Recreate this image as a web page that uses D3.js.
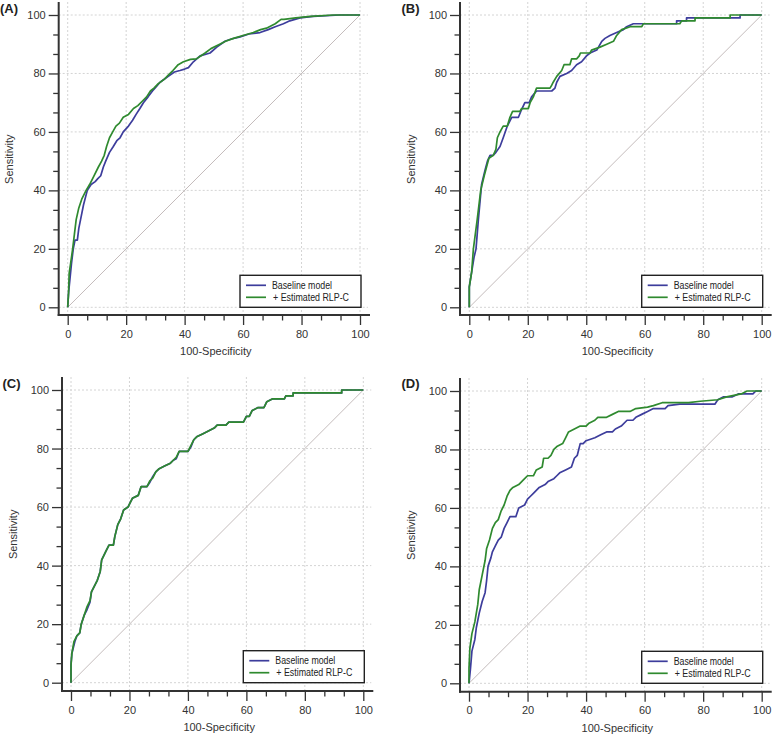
<!DOCTYPE html>
<html><head><meta charset="utf-8">
<script src="https://cdn.jsdelivr.net/npm/d3@7"></script>
<style>
body{margin:0;background:#fff;}
svg{display:block;font-family:Arial,"Liberation Sans",sans-serif;}
</style>
</head><body>
<svg id="chart" width="778" height="734"></svg>
<script>
// ---------- data ----------
const seriesNames = ["Baseline model", "+ Estimated RLP-C"];
const seriesColors = ["#3d3d9c", "#2f8a2f"];
const majorTicks = [0, 20, 40, 60, 80, 100];
const panelLabels = ["(A)", "(B)", "(C)", "(D)"];
const xTitle = "100-Specificity";
const yTitle = "Sensitivity";

// Panel A
const aBaseline = [[0,0],[0.3,5],[0.8,10],[1.3,15],[1.9,20],[2.5,23],[3.3,23],[3.8,27],[4.4,30],[5.4,35],[6.7,40],[8,42],[9.4,43],[10.3,44],[11.3,45],[12.2,48],[13,50],[14.3,53],[15.6,55],[16.8,57],[17.9,58],[19,60],[20.8,62],[22.2,64],[23.4,66],[24.7,68],[25.9,70],[27.5,72],[29,74],[30.3,75.5],[31.6,77],[33,78],[34.4,79],[36.5,80.5],[38.4,81],[40,81.5],[41.3,82],[43,84],[45.3,86],[48.7,87],[51,89],[53.8,91],[56,91.8],[59,92.5],[62,93.5],[65.8,94],[68.6,95],[71,96],[73.8,97],[76,98],[79.5,99],[84,99.5],[93,100],[100,100]];
const aEstimated = [[0,0],[0.3,5],[0.5,11.6],[1,15],[1.7,20],[2.3,25],[2.9,30],[3.8,34],[4.8,37],[6.3,40],[7.5,42],[9,45],[10.5,48],[11.6,50],[12.5,52],[13.3,55],[14.3,58],[15.4,60],[16.5,62],[17.7,63],[19,65],[20.8,66],[22.5,68],[24,69],[25.5,70.5],[27,72],[28.3,74],[29.5,75],[31,76.5],[33,78],[34.5,79.5],[36,81],[37.8,83],[39.6,84],[42,84.8],[44,85],[45.5,86],[47,87],[49,88.5],[52,90],[54,91],[56.7,92],[60,93],[63.5,94],[66,95],[68,95.5],[71,97],[73,98.5],[74,98.5],[78,99],[83,99.5],[91,100],[100,100]];

// Panel B
const bBaseline = [[0,0],[0,7],[0.8,12],[1.6,17],[2.3,20],[3.1,30],[4.2,42],[5.4,47],[6.2,50],[7.1,52],[8.2,52],[9.1,53],[10.5,55],[11.6,58],[13,62],[14.5,65],[16.8,65],[17.6,67],[19,70],[20.5,70],[21.3,72],[23,74],[28.2,74],[29.3,75],[29.9,77],[31,79],[33.3,80],[35,81],[36.7,83],[38.4,84],[40.1,86],[41.3,87],[43.6,88],[45.3,91],[46.4,92],[48.1,93],[50.4,94],[52.7,95],[53.8,96],[56.1,97],[70.9,97],[70.9,98],[74.3,98],[74.3,99],[92.6,99],[92.6,100],[100,100]];
const bEstimated = [[0,0],[0,7],[0.8,12],[1.4,20],[2.7,30],[3.9,40],[5.1,45],[5.9,48],[6.7,51],[8.2,52],[9.1,54],[9.6,58],[10.5,60],[11.6,62],[13,62],[13.9,65],[14.8,67],[17.3,67],[17.9,68],[20.2,68],[20.8,70],[21.9,72],[23,75],[27.6,75],[28.2,76],[28.7,77],[29.9,79],[31.6,81],[32.4,83],[34.4,83],[35,85],[36.7,85],[37.6,86],[38,87],[41.3,87],[41.8,88],[44.7,89],[47,90],[49.3,91],[50.4,93],[52.1,95],[55,96],[59,96],[59.5,97],[72,97],[72.6,98],[77.2,98],[77.2,99],[89.2,99],[89.2,100],[100,100]];

// Panel C
const cBaseline = [[0,0],[0,6],[0.3,10],[1.3,14],[2,16],[3,17],[3.5,20],[4.5,23],[5.5,25],[6.5,27.5],[7,31],[8,33],[9,35],[10,38],[10.5,42],[12,45],[13,47],[14.5,47],[15,50],[16,54],[17,56],[18,59],[19.5,60],[20,61],[21,63],[23,64],[24,67],[26,67],[27,68.5],[28,70.5],[29,72],[30,73],[32,74],[34,75],[35,76],[36,76.5],[37,79],[40,79],[41,80.5],[42,83],[43,84],[45,85],[47,86],[49,87],[50,88],[53,88],[54,89],[59,89],[60,91],[61,91],[62,93],[64,94],[66,94],[67,96],[69,97],[73,97],[73.5,98],[76,98],[76,99],[92.6,99],[92.6,100],[100,100]];
const cEstimated = [[0,0],[0,6],[0.3,10],[1,14],[2,16],[3,17],[3.5,20],[4.5,23],[5.5,26],[6.5,28],[7,31],[8,33],[9,35],[10,38],[10.5,42],[12,45],[13,47],[14.5,47],[15,50],[16,54],[17,56],[18,59],[19.5,60],[20,61],[21,63],[23,64],[24,67],[26,67],[27,69],[28,70],[29,72],[30,73],[32,74],[34,75],[35,76],[36,77],[37,79],[40,79],[41,81],[42,83],[43,84],[45,85],[47,86],[49,87],[50,88],[53,88],[54,89],[59,89],[60,91],[61,91],[62,93],[64,94],[66,94],[67,96],[69,97],[73,97],[73.5,98],[76,98],[76,99],[92.6,99],[92.6,100],[100,100]];

// Panel D
const dBaseline = [[0,0],[0.5,5],[1,11],[2,15],[2.5,19],[3.5,24],[4.5,28],[5.5,31],[6,35],[6.5,40],[7.5,43],[8,45],[9,47],[10,49],[11,50],[12,53],[13,55],[14,57],[16,57],[17,60],[19,61],[20,63],[21,64],[22,65],[23,66],[24,67],[26,68],[27,69],[29,70],[30,71],[31,72],[33,73],[35,74],[36,77],[37,78],[38,82],[39,82],[40,83],[43,84],[45,85],[47,86],[49,86],[50,87],[52,88],[54,90],[56,90],[57,91],[59,92],[61,93],[63,94],[67,94],[68,95],[72,95.5],[84,95.5],[85,97],[87,98],[90,98],[92,99],[97,99],[98,100],[100,100]];
const dEstimated = [[0,0],[0,5],[0.3,12],[1,17],[2,21],[3,27],[3.5,32],[4.5,37],[5.5,42],[6,46],[7,49],[8,53],[9,55],[10,56],[11,59],[12,61],[13,64],[14,66],[15,67],[17,68],[18,69],[19,70],[20,71],[22,71],[23,73],[25,74],[25.5,77],[27,77],[28,78],[29,80],[30,81],[32,82],[33,84],[34,86],[36,87],[38,88],[40,88],[41,89],[43,90],[44,91],[47,91],[49,92],[51,93],[55,93],[57,94],[61,94.5],[63,95],[66,96],[75,96],[79,96.5],[85,97],[88,98],[93,99],[95,100],[100,100]];

const panelData = [[aBaseline, aEstimated],[bBaseline, bEstimated],[cBaseline, cEstimated],[dBaseline, dEstimated]];

// ---------- layout ----------
const layouts = [
  {axisX:58.7, x0:67.7, x100:360,   y100:15,  y0:307.3, axisY:315,   lx:0,     ly:12.5},
  {axisX:460,  x0:469.3,x100:761.7, y100:15,  y0:307.3, axisY:315,   lx:401.5, ly:12.5},
  {axisX:62,   x0:71,   x100:363.3, y100:390, y0:682.7, axisY:691,   lx:2.5,   ly:387.5},
  {axisX:460,  x0:469,  x100:761.7, y100:391, y0:683.3, axisY:691.7, lx:401.5, ly:387.5}
];

const svg = d3.select("#chart");
const minorTicks = d3.range(0, 16).filter(i => i % 3 !== 0).map(i => i * 20 / 3);

layouts.forEach((L, pi) => {
  const g = svg.append("g");
  const x = d3.scaleLinear().domain([0, 100]).range([L.x0, L.x100]);
  const y = d3.scaleLinear().domain([0, 100]).range([L.y0, L.y100]);
  const top = L.y100 - 13;
  const right = L.x100 + 10;

  // grid
  const grid = g.append("g").attr("stroke", "#d4d4d4").attr("stroke-width", 1).attr("stroke-dasharray", "2,2");
  grid.selectAll(".gv").data(majorTicks).join("line")
    .attr("x1", d => x(d)).attr("x2", d => x(d)).attr("y1", top).attr("y2", L.axisY);
  grid.selectAll(".gh").data(majorTicks).join("line")
    .attr("x1", L.axisX).attr("x2", right - 2).attr("y1", d => y(d)).attr("y2", d => y(d));

  // diagonal
  g.append("line").attr("x1", x(0)).attr("y1", y(0)).attr("x2", x(100)).attr("y2", y(100))
    .attr("stroke", "#c4bcbc").attr("stroke-width", 1);

  // curves (baseline first, estimated on top)
  const line = d3.line().x(d => x(d[0])).y(d => y(d[1]));
  panelData[pi].forEach((s, si) => {
    g.append("path").datum(s).attr("d", line).attr("fill", "none")
      .attr("stroke", seriesColors[si]).attr("stroke-width", 1.7).attr("stroke-linejoin", "round");
  });

  // axes
  const axG = g.append("g").attr("font-size", 11).attr("fill", "#333");
  const yAx = axG.append("g").attr("transform", `translate(${L.axisX},0)`)
    .call(d3.axisLeft(y).tickValues(majorTicks).tickSize(10).tickPadding(3));
  yAx.select(".domain").remove();
  const yMin = axG.append("g").attr("transform", `translate(${L.axisX},0)`)
    .call(d3.axisLeft(y).tickValues(minorTicks).tickSize(5.5).tickFormat(""));
  yMin.select(".domain").remove();
  const xAx = axG.append("g").attr("transform", `translate(0,${L.axisY})`)
    .call(d3.axisBottom(x).tickValues(majorTicks).tickSize(10).tickPadding(5));
  xAx.select(".domain").remove();
  const xMin = axG.append("g").attr("transform", `translate(0,${L.axisY})`)
    .call(d3.axisBottom(x).tickValues(minorTicks).tickSize(5.5).tickFormat(""));
  xMin.select(".domain").remove();
  axG.selectAll(".tick line").attr("stroke", "#333").attr("stroke-width", 1.3);
  axG.selectAll(".tick text").attr("fill", "#333").attr("font-size", 11)
    .attr("font-family", "Arial, 'Liberation Sans', sans-serif");

  g.append("line").attr("x1", L.axisX).attr("x2", L.axisX).attr("y1", top).attr("y2", L.axisY + 1)
    .attr("stroke", "#333").attr("stroke-width", 2);
  g.append("line").attr("x1", L.axisX - 1).attr("x2", right).attr("y1", L.axisY).attr("y2", L.axisY)
    .attr("stroke", "#333").attr("stroke-width", 2);

  // titles
  g.append("text").attr("x", (L.x0 + L.x100) / 2 + 2).attr("y", L.axisY + 40)
    .attr("text-anchor", "middle").attr("font-size", 11).attr("fill", "#333").text(xTitle);
  g.append("text").attr("transform", `translate(${L.axisX - 45.5},${(L.y0 + L.y100) / 2 - 2}) rotate(-90)`)
    .attr("text-anchor", "middle").attr("font-size", 11).attr("fill", "#333").text(yTitle);

  // panel label
  g.append("text").attr("x", L.lx).attr("y", L.ly).attr("font-size", 13).attr("font-weight", "bold")
    .attr("fill", "#222").text(panelLabels[pi]);

  // legend
  const lg = g.append("g").attr("transform", `translate(${L.x100 - 120},${L.y0 - 32})`);
  lg.append("rect").attr("width", 121).attr("height", 32).attr("fill", "#fff")
    .attr("stroke", "#222").attr("stroke-width", 1.4);
  const textLens = [60, 76];
  seriesNames.forEach((nm, si) => {
    const yy = 10 + si * 12;
    lg.append("line").attr("x1", 6).attr("x2", 26).attr("y1", yy).attr("y2", yy)
      .attr("stroke", seriesColors[si]).attr("stroke-width", 1.7);
    lg.append("text").attr("x", si === 0 ? 32 : 33).attr("y", yy + 3.6).attr("font-size", 10)
      .attr("fill", "#222").attr("textLength", textLens[si]).attr("lengthAdjust", "spacingAndGlyphs").text(nm);
  });
});
</script>
</body></html>
